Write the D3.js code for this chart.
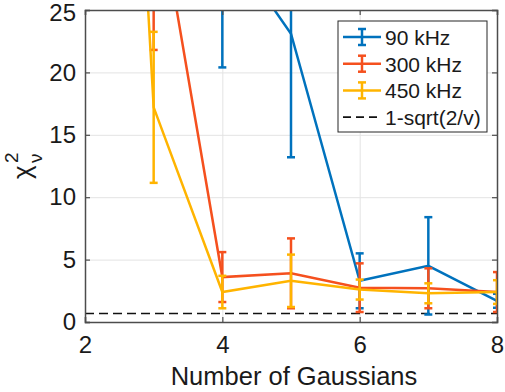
<!DOCTYPE html>
<html>
<head>
<meta charset="utf-8">
<script src="https://cdn.jsdelivr.net/npm/d3@7"></script>
<style>
  body { margin: 0; background: #fff; }
  text { font-family: "Liberation Sans", Arial, sans-serif; fill: #1a1a1a; }
</style>
</head>
<body>
<svg id="chart" width="505" height="392"></svg>
<script>
// number of gaussians in the fit
var gaussians = [2, 3, 4, 5, 6, 7, 8];
// reduced chi-square per frequency
var chi90 = [150, 60, 31, 23.1, 3.3, 4.5, 1.7],
    err90 = [30, 15, 10.6, 9.9, 2.2, 3.9, 0.56];
var chi300 = [120, 35.8, 3.6, 3.9, 2.75, 2.7, 2.4],
    err300 = [25, 14, 2.0, 2.8, 1.95, 1.6, 1.6];
var chi450 = [115, 17.2, 2.4, 3.3, 2.6, 2.3, 2.4],
    err450 = [25, 6.05, 1.3, 2.1, 0.8, 0.8, 0.95];
var refLine = 0.68;
var seriesNames = ["90 kHz", "300 kHz", "450 kHz"];
var refName = "1-sqrt(2/v)";
var xTicks = [2, 4, 6, 8],
    yTicks = [0, 5, 10, 15, 20, 25];

var colors = ["#0072BD", "#F5501E", "#FFB400"];
var series = [
  {name: seriesNames[0], y: chi90, e: err90, color: colors[0]},
  {name: seriesNames[1], y: chi300, e: err300, color: colors[1]},
  {name: seriesNames[2], y: chi450, e: err450, color: colors[2]}
];

var svg = d3.select("#chart"),
    margin = {left: 85, top: 10, right: 8, bottom: 70},
    width = 505 - margin.left - margin.right,
    height = 392 - margin.top - margin.bottom;

var x = d3.scaleLinear().domain([2, 8]).range([0, width]),
    y = d3.scaleLinear().domain([0, 25]).range([height, 0]);

var g = svg.append("g")
  .attr("transform", "translate(" + margin.left + "," + margin.top + ")");

g.append("defs").append("clipPath").attr("id", "clip")
  .append("rect").attr("width", width).attr("height", height);

// grid
g.append("g").attr("class", "grid")
  .attr("transform", "translate(0," + height + ")")
  .call(d3.axisBottom(x).tickValues(xTicks).tickSize(-height).tickFormat(""));
g.append("g").attr("class", "grid")
  .call(d3.axisLeft(y).tickValues(yTicks).tickSize(-width).tickFormat(""));
g.selectAll(".grid line").attr("stroke", "#e3e3e3").attr("stroke-width", 1);
g.selectAll(".grid .domain").remove();

var plot = g.append("g").attr("clip-path", "url(#clip)");

// reference dashed line
plot.append("line")
  .attr("x1", x(2)).attr("x2", x(8))
  .attr("y1", y(refLine)).attr("y2", y(refLine))
  .attr("stroke", "#111").attr("stroke-width", 1.6)
  .attr("stroke-dasharray", "9,5");

var line = d3.line().x(function(d) { return x(d.x); }).y(function(d) { return y(d.y); });
var cap = 4;

series.forEach(function(s) {
  var pts = gaussians.map(function(gx, i) { return {x: gx, y: s.y[i], e: s.e[i]}; });
  plot.append("path")
    .datum(pts)
    .attr("d", line)
    .attr("fill", "none")
    .attr("stroke", s.color)
    .attr("stroke-width", 2.5);

  var eb = plot.selectAll(null).data(pts).enter().append("g")
    .attr("stroke", s.color).attr("stroke-width", 2.5);
  eb.append("line")
    .attr("x1", function(d) { return x(d.x); }).attr("x2", function(d) { return x(d.x); })
    .attr("y1", function(d) { return y(d.y - d.e); }).attr("y2", function(d) { return y(d.y + d.e); });
  eb.append("line")
    .attr("x1", function(d) { return x(d.x) - cap; }).attr("x2", function(d) { return x(d.x) + cap; })
    .attr("y1", function(d) { return y(d.y - d.e); }).attr("y2", function(d) { return y(d.y - d.e); });
  eb.append("line")
    .attr("x1", function(d) { return x(d.x) - cap; }).attr("x2", function(d) { return x(d.x) + cap; })
    .attr("y1", function(d) { return y(d.y + d.e); }).attr("y2", function(d) { return y(d.y + d.e); });
});

// axes
var axisColor = "#4d4d4d";
var xAxis = g.append("g")
  .attr("transform", "translate(0," + height + ")")
  .call(d3.axisBottom(x).tickValues(xTicks).tickSize(-5).tickPadding(14).tickFormat(d3.format("d")));
var yAxis = g.append("g")
  .call(d3.axisLeft(y).tickValues(yTicks).tickSize(-5).tickPadding(9).tickFormat(d3.format("d")));
var topAxis = g.append("g")
  .call(d3.axisTop(x).tickValues(xTicks).tickSize(-5).tickFormat(""));
var rightAxis = g.append("g")
  .attr("transform", "translate(" + width + ",0)")
  .call(d3.axisRight(y).tickValues(yTicks).tickSize(-5).tickFormat(""));
[xAxis, yAxis, topAxis, rightAxis].forEach(function(a) {
  a.select(".domain").attr("stroke", axisColor).attr("stroke-width", 1.5);
  a.selectAll(".tick line").attr("stroke", axisColor).attr("stroke-width", 1.2);
  a.selectAll("text").style("font-size", "24px").attr("fill", "#1a1a1a");
});
// keep the top label inside the picture
yAxis.selectAll(".tick text").filter(function(d) { return d === 25; }).attr("dy", "0.45em");

// x axis title
g.append("text")
  .attr("x", width / 2 + 3).attr("y", height + 63)
  .attr("text-anchor", "middle")
  .style("font-size", "25.5px")
  .text("Number of Gaussians");

// y axis title: chi^2_nu
var yl = svg.append("g").attr("transform", "translate(31,179) rotate(-90)");
yl.append("text").attr("x", 0).attr("y", 0).style("font-size", "26px").text("χ");
yl.append("text").attr("x", 16).attr("y", -13).style("font-size", "19px").text("2");
yl.append("text").attr("x", 16).attr("y", 11).style("font-size", "19px").text("ν");

// legend
var lg = svg.append("g").attr("transform", "translate(338,21)");
lg.append("rect").attr("width", 149).attr("height", 111)
  .attr("fill", "#fff").attr("stroke", "#262626").attr("stroke-width", 1);
var items = series.map(function(s) { return {name: s.name, color: s.color, dash: false}; })
  .concat([{name: refName, color: "#111", dash: true}]);
var row = lg.selectAll(".item").data(items).enter().append("g")
  .attr("transform", function(d, i) { return "translate(0," + (16 + i * 26.7) + ")"; });
row.append("line")
  .attr("x1", 5).attr("x2", 43).attr("y1", 0).attr("y2", 0)
  .attr("stroke", function(d) { return d.color; })
  .attr("stroke-width", function(d) { return d.dash ? 1.6 : 2.5; })
  .attr("stroke-dasharray", function(d) { return d.dash ? "8,5" : null; });
var eIt = row.filter(function(d) { return !d.dash; }).append("g")
  .attr("stroke", function(d) { return d.color; }).attr("stroke-width", 2.5);
eIt.append("line").attr("x1", 24).attr("x2", 24).attr("y1", -8).attr("y2", 8);
eIt.append("line").attr("x1", 20).attr("x2", 28).attr("y1", -8).attr("y2", -8);
eIt.append("line").attr("x1", 20).attr("x2", 28).attr("y1", 8).attr("y2", 8);
row.append("text")
  .attr("x", 47).attr("y", 8)
  .style("font-size", "21px")
  .text(function(d) { return d.name; });
</script>
</body>
</html>
